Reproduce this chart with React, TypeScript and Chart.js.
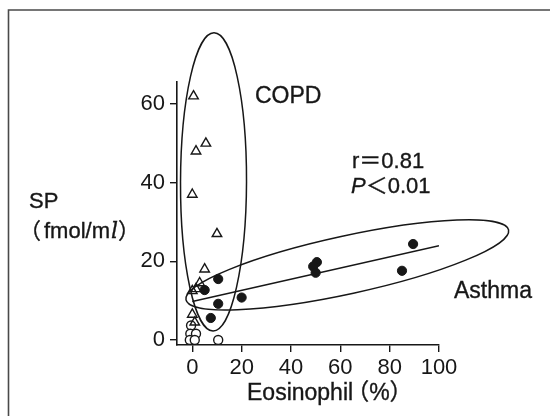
import React, { useEffect, useRef } from "react";
import { Chart, registerables } from "chart.js";

Chart.register(...registerables);

// ---- data ----
const copdX = [0.5, 5.5, 1.5, 0, 10, 5, 3, 0, 1.5, 0, 1];
const copdY = [62, 50, 48, 37, 27, 18, 14.5, 12.5, 13, 6.5, 4.5];

const asthmaX = [10.5, 5, 20, 10.5, 7.5, 50.5, 49, 50, 89.5, 85];
const asthmaY = [15.5, 12.7, 10.8, 9.2, 5.6, 19.8, 18.7, 17.1, 24.4, 17.6];

const controlX = [-0.5, -0.8, 1.5, -1, 1, 10.5];
const controlY = [3.7, 1.6, 1.6, 0, 0, 0];

const regressionX = [0, 100];
const regressionY = [9.8, 24];

const xTicks = [0, 20, 40, 60, 80, 100];
const yTicks = [0, 20, 40, 60];

// ellipse outlines: major-axis end points in data units, half-width in px
const copdEllipseEnds = [
  [8.8, 78.1],
  [8.4, 2.3],
];
const asthmaEllipseEnds = [
  [-2.55, 10.2],
  [128.2, 28.0],
];
const COPD_HALF_WIDTH = 33;
const ASTHMA_HALF_WIDTH = 29;

const FONT = "'Liberation Sans', Arial, 'Noto Sans CJK JP', sans-serif";
const INK = "#171717";

const zip = (xs: number[], ys: number[]) => xs.map((x, i) => ({ x, y: ys[i] }));

const framePlugin = {
  id: "frame",
  beforeDraw(chart: any) {
    const ctx = chart.ctx;
    ctx.save();
    ctx.fillStyle = "#ffffff";
    ctx.fillRect(0, 0, chart.width, chart.height);
    ctx.strokeStyle = "#4a4a4a";
    ctx.lineWidth = 1.6;
    ctx.beginPath();
    ctx.moveTo(8.5, 416);
    ctx.lineTo(8.5, 10);
    ctx.lineTo(550, 10);
    ctx.stroke();
    ctx.restore();
  },
};

const ellipsePlugin = {
  id: "ellipses",
  afterDatasetsDraw(chart: any) {
    const { ctx, scales } = chart;
    const sx = scales.x;
    const sy = scales.y;
    const drawEllipse = (ends: number[][], halfWidth: number) => {
      const x1 = sx.getPixelForValue(ends[0][0]);
      const y1 = sy.getPixelForValue(ends[0][1]);
      const x2 = sx.getPixelForValue(ends[1][0]);
      const y2 = sy.getPixelForValue(ends[1][1]);
      const cx = (x1 + x2) / 2;
      const cy = (y1 + y2) / 2;
      const a = Math.hypot(x2 - x1, y2 - y1) / 2;
      const rot = Math.atan2(y2 - y1, x2 - x1);
      ctx.beginPath();
      ctx.ellipse(cx, cy, a, halfWidth, rot, 0, Math.PI * 2);
      ctx.stroke();
    };
    ctx.save();
    ctx.strokeStyle = INK;
    ctx.lineWidth = 1.5;
    drawEllipse(copdEllipseEnds, COPD_HALF_WIDTH);
    drawEllipse(asthmaEllipseEnds, ASTHMA_HALF_WIDTH);
    ctx.restore();
  },
};

const textPlugin = {
  id: "texts",
  afterDraw(chart: any) {
    const ctx = chart.ctx;
    ctx.save();
    ctx.fillStyle = INK;
    ctx.strokeStyle = INK;
    ctx.lineWidth = 0.35;
    ctx.textBaseline = "middle";
    ctx.textAlign = "left";
    const normal = `22px ${FONT}`;
    const big = `23px ${FONT}`;
    const italic = `italic 22px ${FONT}`;
    const serifItalic = `italic 22px 'DejaVu Serif', serif`;
    // each part: text, font, extra offset before drawing
    const runs = (x: number, y: number, parts: [string, string, number?][]) => {
      let cx = x;
      for (const [txt, f, shift] of parts) {
        cx += shift || 0;
        ctx.font = f;
        ctx.fillText(txt, cx, y);
        ctx.strokeText(txt, cx, y);
        cx += ctx.measureText(txt).width;
      }
    };
    runs(255, 97, [["COPD", big]]);
    runs(352, 162, [["r＝0.81", normal]]);
    runs(351, 187, [["P", italic], ["＜0.01", normal]]);
    runs(454, 292, [["Asthma", big]]);
    runs(29, 202, [["SP", normal]]);
    runs(19, 232, [["（", normal], ["fmol/m", normal, 3], ["l", serifItalic, 1], ["）", normal]]);
    runs(247, 394, [["Eosinophil", big], ["（%）", big, -7]]);
    ctx.restore();
  },
};

export default function App() {
  const ref = useRef<HTMLCanvasElement | null>(null);

  useEffect(() => {
    if (!ref.current) return;
    const axisCommon = {
      type: "linear" as const,
      ticks: {
        font: { family: FONT, size: 22 },
        color: INK,
        autoSkip: false,
        maxRotation: 0,
        includeBounds: false,
      },
      grid: {
        drawOnChartArea: false,
        drawTicks: true,
        tickLength: 7,
        color: INK,
        lineWidth: 1.4,
      },
      border: { display: true, color: INK, width: 1.6 },
    };
    const chart = new Chart(ref.current, {
      type: "scatter",
      data: {
        datasets: [
          {
            label: "COPD",
            data: zip(copdX, copdY),
            pointStyle: "triangle",
            pointRadius: 5.5,
            backgroundColor: "rgba(255,255,255,0)",
            borderColor: INK,
            borderWidth: 1.4,
          },
          {
            label: "Control",
            data: zip(controlX, controlY),
            pointStyle: "circle",
            pointRadius: 4.5,
            backgroundColor: "#ffffff",
            borderColor: INK,
            borderWidth: 1.4,
          },
          {
            label: "Asthma",
            data: zip(asthmaX, asthmaY),
            pointStyle: "circle",
            pointRadius: 4.6,
            backgroundColor: INK,
            borderColor: INK,
            borderWidth: 1,
          },
          {
            type: "line" as any,
            label: "regression",
            data: zip(regressionX, regressionY),
            showLine: true,
            pointRadius: 0,
            borderColor: INK,
            borderWidth: 1.5,
            fill: false,
          } as any,
        ],
      },
      options: {
        responsive: false,
        animation: false,
        devicePixelRatio: 1,
        layout: { padding: { top: 82, right: 111, left: 0, bottom: 0 } },
        plugins: {
          legend: { display: false },
          tooltip: { enabled: false },
        },
        scales: {
          x: {
            ...axisCommon,
            position: "bottom",
            min: -6.2,
            max: 100,
            ticks: { ...axisCommon.ticks, padding: 3 },
            afterBuildTicks: (s: any) => {
              s.ticks = xTicks.map((v) => ({ value: v }));
            },
            afterFit: (s: any) => {
              s.height = 71;
            },
          },
          y: {
            ...axisCommon,
            position: "left",
            min: -1.27,
            max: 65.6,
            ticks: { ...axisCommon.ticks, padding: 5 },
            afterBuildTicks: (s: any) => {
              s.ticks = yTicks.map((v) => ({ value: v }));
            },
            afterFit: (s: any) => {
              s.width = 177;
            },
          },
        },
      } as any,
      plugins: [framePlugin, ellipsePlugin, textPlugin],
    });
    return () => chart.destroy();
  }, []);

  return (
    <div style={{ position: "absolute", left: 0, top: 0, width: 550, height: 416 }}>
      <canvas ref={ref} width={550} height={416} style={{ display: "block" }} />
    </div>
  );
}
